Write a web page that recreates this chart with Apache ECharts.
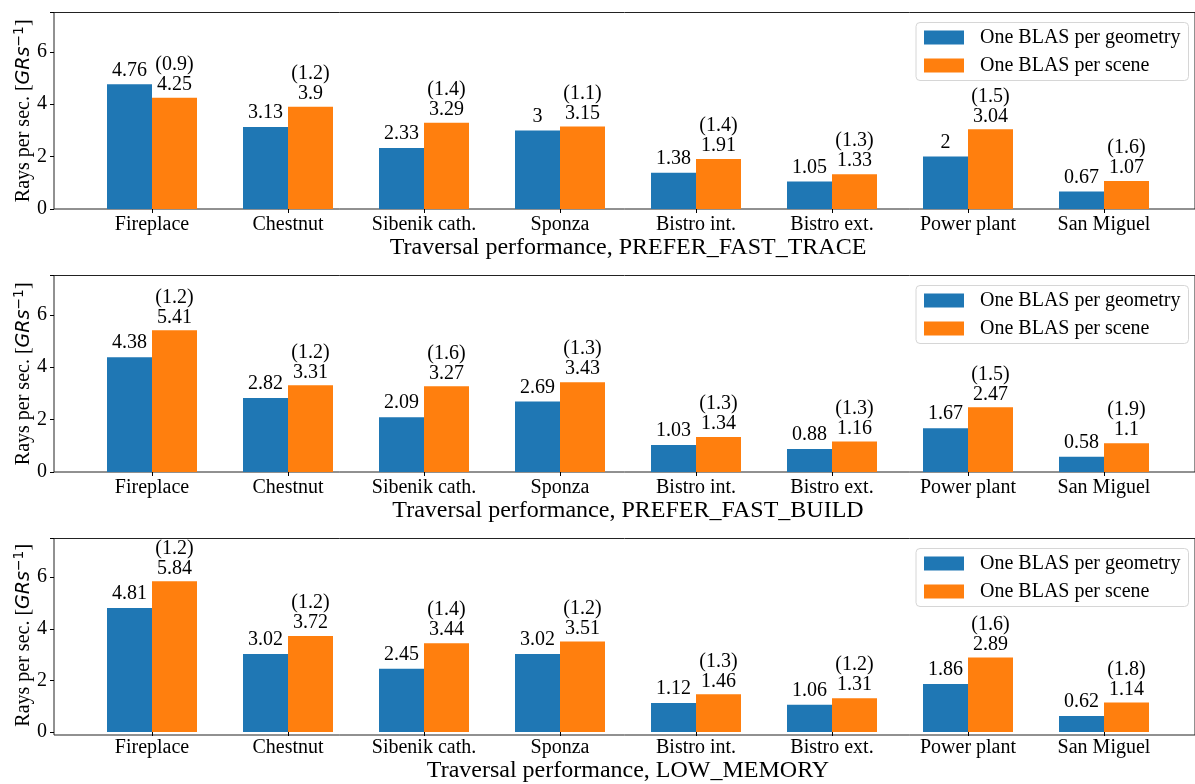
<!DOCTYPE html>
<html>
<head>
<meta charset="utf-8">
<script src="https://cdn.jsdelivr.net/npm/echarts@6/dist/echarts.min.js"></script>
<style>
  html, body { margin: 0; padding: 0; background: #fff; }
  #chart { width: 1195px; height: 784px; }
</style>
</head>
<body>
<div id="chart"></div>
<script>
// Scenes on the x axis
const scenes = ['Fireplace', 'Chestnut', 'Sibenik cath.', 'Sponza', 'Bistro int.', 'Bistro ext.', 'Power plant', 'San Miguel'];
const seriesNames = ['One BLAS per geometry', 'One BLAS per scene'];
const panelTitles = ['Traversal performance, PREFER_FAST_TRACE', 'Traversal performance, PREFER_FAST_BUILD', 'Traversal performance, LOW_MEMORY'];
const yTicks = [0, 2, 4, 6];

// PREFER_FAST_TRACE (GRays/s)
const fastTraceGeometry = [4.76, 3.13, 2.33, 3, 1.38, 1.05, 2, 0.67];
const fastTraceScene = [4.25, 3.9, 3.29, 3.15, 1.91, 1.33, 3.04, 1.07];
const fastTraceSpeedup = ['0.9', '1.2', '1.4', '1.1', '1.4', '1.3', '1.5', '1.6'];

// PREFER_FAST_BUILD (GRays/s)
const fastBuildGeometry = [4.38, 2.82, 2.09, 2.69, 1.03, 0.88, 1.67, 0.58];
const fastBuildScene = [5.41, 3.31, 3.27, 3.43, 1.34, 1.16, 2.47, 1.1];
const fastBuildSpeedup = ['1.2', '1.2', '1.6', '1.3', '1.3', '1.3', '1.5', '1.9'];

// LOW_MEMORY (GRays/s)
const lowMemGeometry = [4.81, 3.02, 2.45, 3.02, 1.12, 1.06, 1.86, 0.62];
const lowMemScene = [5.84, 3.72, 3.44, 3.51, 1.46, 1.31, 2.89, 1.14];
const lowMemSpeedup = ['1.2', '1.2', '1.4', '1.2', '1.3', '1.2', '1.6', '1.8'];

const panels = [
  { geometry: fastTraceGeometry, scene: fastTraceScene, speedup: fastTraceSpeedup, title: panelTitles[0] },
  { geometry: fastBuildGeometry, scene: fastBuildScene, speedup: fastBuildSpeedup, title: panelTitles[1] },
  { geometry: lowMemGeometry, scene: lowMemScene, speedup: lowMemSpeedup, title: panelTitles[2] }
];

const SERIF = "'Liberation Serif', 'Times New Roman', serif";
const BLUE = '#1f77b4';
const ORANGE = '#ff7f0e';
const panelTop = [12.5, 275.5, 538.5];
const panelHeight = 196.5;
const bandWidth = 136;

const grid = [], xAxis = [], yAxis = [], series = [], legend = [];

panels.forEach((p, k) => {
  const top = panelTop[k];
  // frame (spines) spanning the full axes box
  grid.push({ left: 54, top: top, width: 1148, height: panelHeight, show: true,
              borderColor: '#222', borderWidth: 1, backgroundColor: 'transparent' });
  xAxis.push({ gridIndex: 2 * k, type: 'value', show: false, min: 0, max: 1 });
  yAxis.push({ gridIndex: 2 * k, type: 'value', show: false, min: 0, max: 1 });

  // data area
  grid.push({ left: 84, top: top, width: 8 * bandWidth, height: panelHeight });
  xAxis.push({
    gridIndex: 2 * k + 1, type: 'category', data: scenes,
    axisLine: { show: false },
    axisTick: { show: true, interval: 0, alignWithLabel: true, length: 4, lineStyle: { color: '#000' } },
    axisLabel: { interval: 0, hideOverlap: false, color: '#000', fontFamily: SERIF, fontSize: 20, margin: 6 },
    name: p.title, nameLocation: 'middle', nameGap: 27, nameMoveOverlap: false,
    nameTextStyle: { color: '#000', fontFamily: SERIF, fontSize: 24 }
  });
  yAxis.push({
    gridIndex: 2 * k + 1, type: 'value', min: 0, max: 7.5, interval: 2, offset: 30,
    splitLine: { show: false },
    axisLine: { show: false },
    axisTick: { show: true, length: 4, lineStyle: { color: '#000' } },
    axisLabel: { color: '#000', fontFamily: SERIF, fontSize: 20, margin: 7,
                 formatter: v => (yTicks.indexOf(v) >= 0 ? String(v) : '') },
    name: '{t|Rays per sec. [}{m|GRs}{s|−1}{t|]}',
    nameLocation: 'middle', nameGap: 18, nameMoveOverlap: false,
    nameTextStyle: {
      rich: {
        t: { fontFamily: SERIF, fontSize: 20, color: '#000' },
        m: { fontFamily: 'DejaVu Sans', fontStyle: 'italic', fontSize: 19, color: '#000' },
        s: { fontFamily: 'DejaVu Sans', fontSize: 14, color: '#000', verticalAlign: 'top', padding: [0, 0, 10, 0] }
      }
    }
  });

  series.push({
    name: seriesNames[0], type: 'bar', xAxisIndex: 2 * k + 1, yAxisIndex: 2 * k + 1,
    data: p.geometry, barWidth: 45, barGap: '0%', itemStyle: { color: BLUE },
    label: { show: true, position: 'top', distance: 4, color: '#000', fontFamily: SERIF, fontSize: 20,
             formatter: d => String(d.value) }
  });
  series.push({
    name: seriesNames[1], type: 'bar', xAxisIndex: 2 * k + 1, yAxisIndex: 2 * k + 1,
    data: p.scene, barWidth: 45, barGap: '0%', itemStyle: { color: ORANGE },
    label: { show: true, position: 'top', distance: 3, color: '#000', fontFamily: SERIF, fontSize: 20,
             lineHeight: 20, formatter: d => '(' + p.speedup[d.dataIndex] + ')\n' + d.value }
  });

  legend.push({
    left: 916, top: top + 10, orient: 'vertical', data: seriesNames,
    icon: 'rect', itemWidth: 40, itemHeight: 14, itemGap: 8,
    padding: [5, 8, 5, 8],
    backgroundColor: '#fff', borderColor: '#d6d6d6', borderWidth: 1, borderRadius: 4,
    selectedMode: false,
    textStyle: { color: '#000', fontFamily: SERIF, fontSize: 20, padding: [0, 0, 0, 11] }
  });
});

const chart = echarts.init(document.getElementById('chart'), null, { renderer: 'canvas' });
chart.setOption({
  animation: false,
  backgroundColor: '#fff',
  grid, xAxis, yAxis, series, legend
});
</script>
</body>
</html>
